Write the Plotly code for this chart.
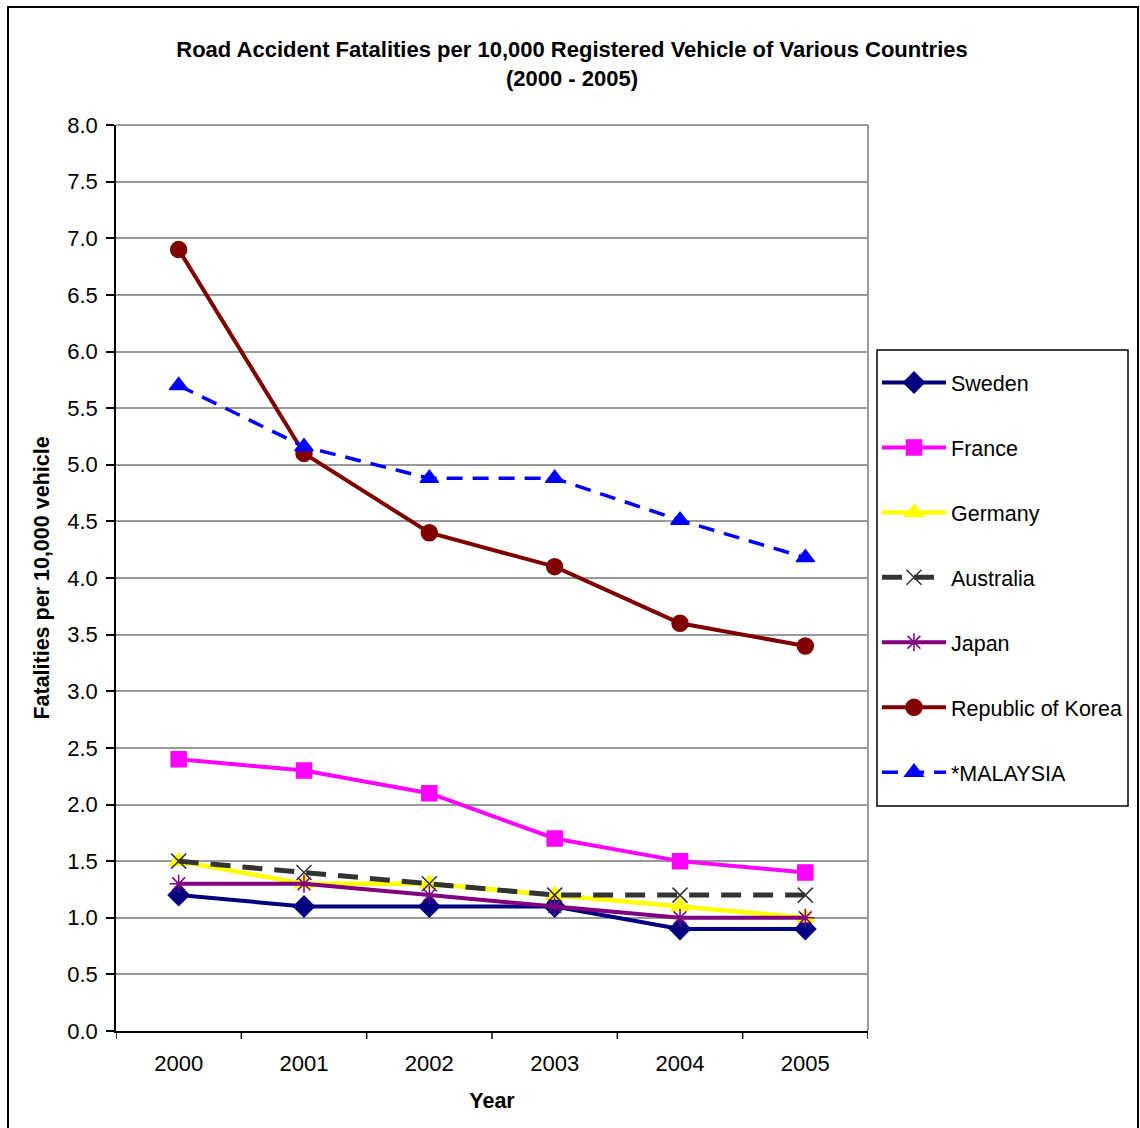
import plotly.graph_objects as go

years = ["2000", "2001", "2002", "2003", "2004", "2005"]

sweden = [1.2, 1.1, 1.1, 1.1, 0.9, 0.9]
france = [2.4, 2.3, 2.1, 1.7, 1.5, 1.4]
germany = [1.5, 1.3, 1.3, 1.2, 1.1, 1.0]
australia = [1.5, 1.4, 1.3, 1.2, 1.2, 1.2]
japan = [1.3, 1.3, 1.2, 1.1, 1.0, 1.0]
korea = [6.9, 5.1, 4.4, 4.1, 3.6, 3.4]
malaysia = [5.7, 5.16, 4.88, 4.88, 4.51, 4.18]

y_ticks = [i / 2 for i in range(17)]
y_tick_labels = [f"{v:.1f}" for v in y_ticks]

FONT = "Arial, 'Liberation Sans', sans-serif"

series = [
    ("Sweden", sweden, "#000080", "solid", "diamond", 16, 4),
    ("France", france, "#FF00FF", "solid", "square", 15, 4),
    ("Germany", germany, "#FFFF00", "solid", "triangle-up", 16, 4.5),
    ("Australia", australia, "#333333", "20px,12px", "x-thin-open", 15, 5),
    ("Japan", japan, "#800080", "solid", "asterisk-open", 15, 4),
    ("Republic of Korea", korea, "#800000", "solid", "circle", 16, 4),
    ("*MALAYSIA", malaysia, "#0000FF", "16px,10px", "triangle-up", 16, 3.5),
]

fig = go.Figure()
for i, (name, vals, color, dash, symbol, msize, lw) in enumerate(series):
    fig.add_trace(go.Scatter(
        x=years, y=vals, name=name, mode="lines+markers",
        legendgroup=f"g{i}",
        line=dict(color=color, width=lw, dash=dash),
        marker=dict(symbol=symbol, size=msize, color=color,
                    line=dict(color=color, width=1.5)),
    ))

fig.update_layout(
    width=1140, height=1128,
    margin=dict(l=116, r=272, t=125, b=97),
    paper_bgcolor="white", plot_bgcolor="white",
    font=dict(family=FONT, size=22, color="black"),
    title=dict(
        text="<b>Road Accident Fatalities per 10,000 Registered Vehicle of Various Countries<br>(2000 - 2005)</b>",
        x=572 / 1140, xref="container", xanchor="center",
        y=1 - 57 / 1128, yref="container", yanchor="top",
        font=dict(family=FONT, size=22, color="black"),
    ),
    showlegend=True,
    legend=dict(
        x=(877 - 116) / 752, xanchor="left",
        y=(1031 - 362) / 906, yanchor="top",
        borderwidth=0, bgcolor="rgba(0,0,0,0)",
        font=dict(family=FONT, size=21.5, color="black"),
        tracegroupgap=34, itemwidth=64, traceorder="grouped",
    ),
    xaxis=dict(
        type="category", range=[-0.5, 5.5],
        showgrid=False, showline=True, linecolor="black", linewidth=1.5,
        mirror=False, ticks="", tickfont=dict(size=22), ticklabelstandoff=12,
        title=dict(text="<b>Year</b>", font=dict(size=21.5), standoff=18),
        zeroline=False,
    ),
    yaxis=dict(
        range=[0, 8], tickvals=y_ticks, ticktext=y_tick_labels,
        showgrid=True, gridcolor="#9a9a9a", gridwidth=1.5,
        showline=True, linecolor="black", linewidth=1.5,
        ticks="outside", ticklen=8, tickcolor="black", tickwidth=1.5,
        tickfont=dict(size=22), ticklabelstandoff=4, zeroline=False,
        title=dict(text="<b>Fatalities per 10,000 vehicle</b>", font=dict(size=21.5), standoff=12),
    ),
)

# Category separators on the x axis (ticks between years)
for k in range(7):
    fig.add_shape(type="line", xref="x", yref="paper",
                  x0=k - 0.5, x1=k - 0.5, y0=0, y1=-8 / 906,
                  line=dict(color="black", width=1.5))

# Plot-area border on the top and right sides
fig.add_shape(type="line", xref="paper", yref="paper", x0=0, x1=1, y0=1, y1=1,
              line=dict(color="#9a9a9a", width=2))
fig.add_shape(type="line", xref="paper", yref="paper", x0=1, x1=1, y0=0, y1=1,
              line=dict(color="#9a9a9a", width=2))

# Legend frame
fig.add_shape(type="rect", xref="paper", yref="paper",
              x0=(877 - 116) / 752, x1=(1128 - 116) / 752,
              y0=(1031 - 806) / 906, y1=(1031 - 350) / 906,
              line=dict(color="black", width=1.5))

# Outer chart frame
fig.add_shape(type="rect", xref="paper", yref="paper",
              x0=(8 - 116) / 752, x1=(1138 - 116) / 752,
              y0=(1031 - 1140) / 906, y1=(1031 - 7) / 906,
              line=dict(color="black", width=2), layer="below")

fig.write_html("out.html")
